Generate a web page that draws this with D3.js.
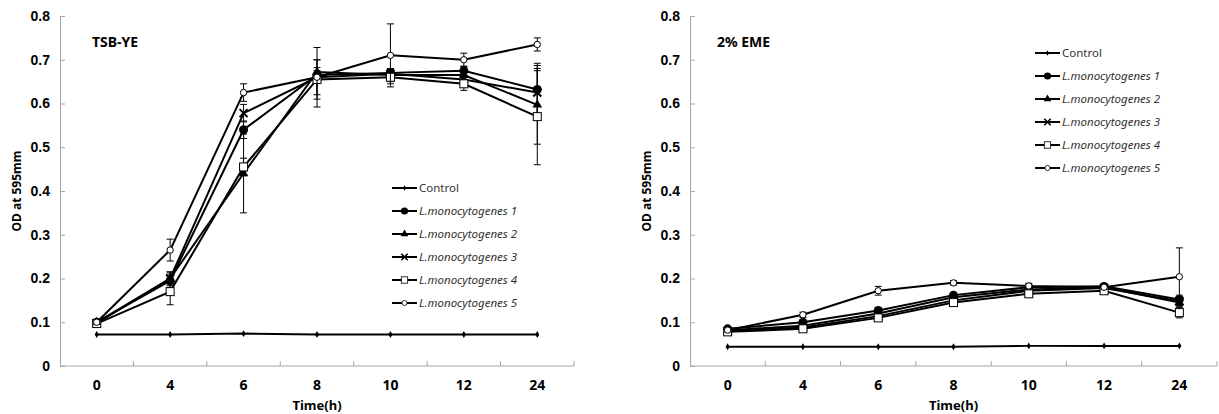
<!DOCTYPE html>
<html>
<head>
<meta charset="utf-8">
<script src="https://cdn.jsdelivr.net/npm/d3@7"></script>
<style>
    body { margin: 0; background: #fff; }
    svg { display: block; font-family: "Noto Sans", "Open Sans", sans-serif; }
</style>
</head>
<body>
<svg id="chart" width="1219" height="414"></svg>
<script>
const times = ["0", "4", "6", "8", "10", "12", "24"];
const seriesNames = [
    "Control",
    "L.monocytogenes 1",
    "L.monocytogenes 2",
    "L.monocytogenes 3",
    "L.monocytogenes 4",
    "L.monocytogenes 5",
];
const yTicks = [0, 0.1, 0.2, 0.3, 0.4, 0.5, 0.6, 0.7, 0.8];

// TSB-YE
const tsbControl = [0.072, 0.072, 0.074, 0.072, 0.072, 0.072, 0.072];
const tsbL1 = [0.100, 0.195, 0.540, 0.665, 0.670, 0.675, 0.632];
const tsbL2 = [0.100, 0.200, 0.440, 0.672, 0.665, 0.665, 0.597];
const tsbL3 = [0.098, 0.200, 0.578, 0.660, 0.668, 0.655, 0.625];
const tsbL4 = [0.097, 0.170, 0.455, 0.655, 0.660, 0.645, 0.570];
const tsbL5 = [0.100, 0.265, 0.625, 0.660, 0.710, 0.700, 0.735];
const tsbControlErr = [0, 0, 0, 0, 0, 0, 0];
const tsbL1Err = [0.005, 0.015, 0.020, 0.010, 0.010, 0.010, 0.060];
const tsbL2Err = [0.005, 0.015, 0.090, 0.010, 0.015, 0.010, 0.090];
const tsbL3Err = [0.005, 0.015, 0.020, 0.040, 0.010, 0.015, 0.050];
const tsbL4Err = [0.005, 0.030, 0.020, 0.045, 0.015, 0.015, 0.110];
const tsbL5Err = [0.005, 0.025, 0.020, 0.068, 0.072, 0.015, 0.015];

// 2% EME
const emeControl = [0.044, 0.044, 0.044, 0.044, 0.046, 0.046, 0.046];
const emeL1 = [0.085, 0.100, 0.127, 0.162, 0.180, 0.182, 0.152];
const emeL2 = [0.082, 0.092, 0.120, 0.157, 0.175, 0.180, 0.145];
const emeL3 = [0.080, 0.088, 0.114, 0.150, 0.172, 0.178, 0.148];
const emeL4 = [0.078, 0.085, 0.110, 0.145, 0.165, 0.172, 0.122];
const emeL5 = [0.082, 0.117, 0.172, 0.190, 0.183, 0.180, 0.204];
const emeControlErr = [0, 0, 0, 0, 0, 0, 0];
const emeL1Err = [0.004, 0.005, 0.006, 0.006, 0.006, 0.005, 0.010];
const emeL2Err = [0.004, 0.005, 0.006, 0.006, 0.006, 0.005, 0.010];
const emeL3Err = [0.004, 0.005, 0.006, 0.006, 0.006, 0.005, 0.010];
const emeL4Err = [0.004, 0.005, 0.006, 0.006, 0.006, 0.005, 0.012];
const emeL5Err = [0.004, 0.006, 0.010, 0.005, 0.006, 0.005, 0.066];

const panels = [
    {
        title: "TSB-YE",
        values: [tsbControl, tsbL1, tsbL2, tsbL3, tsbL4, tsbL5],
        errors: [tsbControlErr, tsbL1Err, tsbL2Err, tsbL3Err, tsbL4Err, tsbL5Err],
        x0: 60, x1: 574, titleX: 92,
        legendX: 392, legendY: 188,
    },
    {
        title: "2% EME",
        values: [emeControl, emeL1, emeL2, emeL3, emeL4, emeL5],
        errors: [emeControlErr, emeL1Err, emeL2Err, emeL3Err, emeL4Err, emeL5Err],
        x0: 690, x1: 1217, titleX: 717,
        legendX: 1035, legendY: 53,
    },
];

const svg = d3.select("#chart");
const axisColor = "#a6a6a6";

// marker drawing by series index
const drawMarker = (sel, i) => {
    if (i === 0) {
        sel.append("path").attr("d", d3.symbol(d3.symbolDiamond, 14)()).attr("fill", "#000");
    } else if (i === 1) {
        sel.append("circle").attr("r", 4.5).attr("fill", "#000");
    } else if (i === 2) {
        sel.append("path").attr("d", d3.symbol(d3.symbolTriangle, 40)()).attr("fill", "#000");
    } else if (i === 3) {
        sel.append("path").attr("d", "M-4,-4L4,4M-4,4L4,-4")
            .attr("stroke", "#000").attr("stroke-width", 2);
    } else if (i === 4) {
        sel.append("rect").attr("x", -4).attr("y", -4).attr("width", 8).attr("height", 8)
            .attr("fill", "#fff").attr("stroke", "#000").attr("stroke-width", 1);
    } else {
        sel.append("circle").attr("r", 3.2).attr("fill", "#fff")
            .attr("stroke", "#000").attr("stroke-width", 1);
    }
};

panels.forEach((p) => {
    const g = svg.append("g");

    const x = d3.scaleBand().domain(times).range([p.x0, p.x1]);
    const y = d3.scaleLinear().domain([0, 0.8]).range([366, 16]);

    // y axis
    const yAxis = g.append("g")
        .attr("transform", `translate(${p.x0},0)`)
        .call(d3.axisLeft(y).tickValues(yTicks).tickSize(-5).tickPadding(10)
            .tickFormat((d) => (d === 0 ? "0" : d3.format(".1f")(d))));
    yAxis.select(".domain").attr("stroke", axisColor);
    yAxis.selectAll(".tick line").attr("stroke", axisColor);
    yAxis.selectAll("text").attr("font-size", 14).attr("font-weight", "bold").attr("fill", "#000");

    // x axis: ticks at category boundaries
    const xAxis = g.append("g").attr("transform", "translate(0,366)");
    xAxis.append("line").attr("x1", p.x0).attr("x2", p.x1).attr("stroke", axisColor);
    const bounds = times.map((t) => x(t) + x.bandwidth());
    xAxis.selectAll(".btick").data(bounds).join("line")
        .attr("x1", (d) => d).attr("x2", (d) => d)
        .attr("y1", 0).attr("y2", -5).attr("stroke", axisColor);
    xAxis.selectAll(".xlab").data(times).join("text")
        .attr("x", (d) => x(d) + x.bandwidth() / 2)
        .attr("y", 24)
        .attr("text-anchor", "middle")
        .attr("font-size", 14).attr("font-weight", "bold")
        .text((d) => d);

    // axis titles
    g.append("text")
        .attr("x", (p.x0 + p.x1) / 2)
        .attr("y", 410)
        .attr("text-anchor", "middle")
        .attr("font-size", 13).attr("font-weight", "bold")
        .text("Time(h)");
    g.append("text")
        .attr("transform", `translate(${p.x0 - 39},191) rotate(-90)`)
        .attr("text-anchor", "middle")
        .attr("font-size", 12).attr("font-weight", "bold")
        .text("OD at 595mm");

    g.append("text")
        .attr("x", p.titleX).attr("y", 47)
        .attr("font-size", 14).attr("font-weight", "bold")
        .text(p.title);

    const cx = (i) => x(times[i]) + x.bandwidth() / 2;
    const line = d3.line().x((d, i) => cx(i)).y((d) => y(d));

    p.values.forEach((vals, s) => {
        const errs = p.errors[s];
        // error bars
        const eb = g.append("g").attr("stroke", "#000").attr("stroke-width", 1);
        vals.forEach((v, i) => {
            if (!errs[i]) return;
            const xi = cx(i);
            eb.append("line").attr("x1", xi).attr("x2", xi)
                .attr("y1", y(v - errs[i])).attr("y2", y(v + errs[i]));
            [v - errs[i], v + errs[i]].forEach((e) => {
                eb.append("line").attr("x1", xi - 3.5).attr("x2", xi + 3.5)
                    .attr("y1", y(e)).attr("y2", y(e));
            });
        });

        g.append("path")
            .datum(vals)
            .attr("fill", "none")
            .attr("stroke", "#000")
            .attr("stroke-width", 2)
            .attr("d", line);

        vals.forEach((v, i) => {
            const m = g.append("g").attr("transform", `translate(${cx(i)},${y(v)})`);
            drawMarker(m, s);
        });
    });

    // legend
    const lg = g.append("g").attr("transform", `translate(${p.legendX},${p.legendY})`);
    seriesNames.forEach((name, i) => {
        const row = lg.append("g").attr("transform", `translate(0,${i * 23})`);
        row.append("line").attr("x1", 0).attr("x2", 25).attr("stroke", "#000").attr("stroke-width", 2);
        drawMarker(row.append("g").attr("transform", "translate(12.5,0) scale(0.8)"), i);
        row.append("text")
            .attr("x", 27).attr("y", 4)
            .attr("font-size", 11.5)
            .attr("fill", "#333")
            .attr("font-style", i === 0 ? "normal" : "italic")
            .text(name);
    });
});
</script>
</body>
</html>
